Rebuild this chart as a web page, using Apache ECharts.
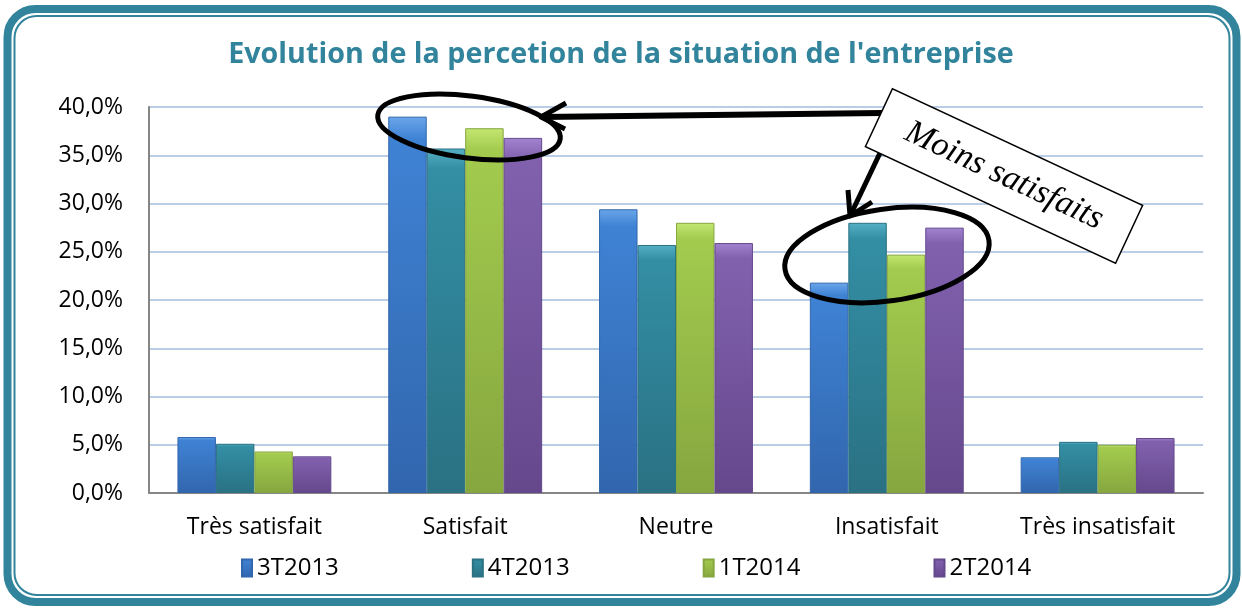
<!DOCTYPE html>
<html>
<head>
<meta charset="utf-8">
<title>Evolution de la percetion de la situation de l'entreprise</title>
<script src="https://cdn.jsdelivr.net/npm/echarts@6/dist/echarts.min.js"></script>
<style>
  html, body { margin: 0; padding: 0; background: #fff; }
  #chart { width: 1242px; height: 610px; }
</style>
</head>
<body>
<div id="chart"></div>
<script>
// categories and series values (percent)
var categories = ['Très satisfait', 'Satisfait', 'Neutre', 'Insatisfait', 'Très insatisfait']
var seriesNames = ['3T2013', '4T2013', '1T2014', '2T2014']
var t3_2013 = [5.8, 39.0, 29.4, 21.8, 3.7]
var t4_2013 = [5.1, 35.7, 25.7, 28.0, 5.3]
var t1_2014 = [4.3, 37.8, 28.0, 24.7, 5.0]
var t2_2014 = [3.8, 36.8, 25.9, 27.5, 5.7]

var FONT = '"Open Sans", Lato, sans-serif'
var TEAL = '#31849b'

// top, middle, bottom colours of each bar
var barColors = [
  ['#6aa6ea', '#3f82d4', '#3166ad'],
  ['#55b0c6', '#338ea4', '#2a7183'],
  ['#c4e671', '#a3cb4e', '#86a63f'],
  ['#a283d0', '#8161ae', '#65488c']
]

function grad(c) {
  return new echarts.graphic.LinearGradient(0, 0, 0, 1, [
    { offset: 0, color: c[0] },
    { offset: 0.06, color: c[1] },
    { offset: 1, color: c[2] }
  ])
}

var allData = [t3_2013, t4_2013, t1_2014, t2_2014]

function makeSeries(i) {
  return {
    name: seriesNames[i],
    type: 'bar',
    barGap: '0%',
    barCategoryGap: '27%',
    data: allData[i],
    itemStyle: {
      color: grad(barColors[i]),
      borderColor: barColors[i][2],
      borderWidth: 1
    },
    z: 2
  }
}

var chart = echarts.init(document.getElementById('chart'))
chart.setOption({
  animation: false,
  backgroundColor: '#fff',
  textStyle: { fontFamily: FONT },
  title: {
    text: "Evolution de la percetion de la situation de l'entreprise",
    left: 'center',
    top: 35,
    textStyle: {
      fontFamily: FONT,
      fontSize: 28.7,
      fontWeight: 'bold',
      color: TEAL
    }
  },
  grid: {
    left: 149,
    right: 39,
    top: 107,
    bottom: 117
  },
  legend: {
    data: seriesNames,
    left: 236,
    top: 551,
    icon: 'rect',
    itemWidth: 10,
    itemHeight: 17,
    itemGap: 133,
    textStyle: { fontFamily: FONT, fontSize: 24, color: '#000' }
  },
  xAxis: {
    type: 'category',
    data: categories,
    axisTick: { show: false },
    axisLine: { lineStyle: { color: '#868686', width: 2 } },
    axisLabel: {
      margin: 23,
      fontFamily: FONT,
      fontSize: 23,
      color: '#000'
    }
  },
  yAxis: {
    type: 'value',
    min: 0,
    max: 40,
    interval: 5,
    axisLine: { show: true, lineStyle: { color: '#868686', width: 2 } },
    axisTick: { show: false },
    splitLine: { lineStyle: { color: '#b9cde5', width: 2 } },
    axisLabel: {
      margin: 26,
      fontFamily: FONT,
      fontSize: 23,
      color: '#000',
      formatter: function(v) {
        return v.toFixed(1).replace('.', ',') + '%'
      }
    }
  },
  series: seriesNames.map(function(n, i) { return makeSeries(i) }),
  graphic: [
    // double rounded frame
    {
      type: 'rect',
      shape: { x: 7.5, y: 9, width: 1229, height: 593, r: 28 },
      style: { fill: 'none', stroke: TEAL, lineWidth: 8 },
      z: 10
    },
    {
      type: 'rect',
      shape: { x: 14.5, y: 16, width: 1215, height: 579, r: 22 },
      style: { fill: 'none', stroke: TEAL, lineWidth: 2 },
      z: 10
    },
    // ellipse around Satisfait
    {
      type: 'ellipse',
      x: 469,
      y: 127,
      rotation: -0.13,
      shape: { cx: 0, cy: 0, rx: 92, ry: 31 },
      style: { fill: 'none', stroke: '#000', lineWidth: 5 },
      z: 20
    },
    // ellipse around Insatisfait
    {
      type: 'ellipse',
      x: 887,
      y: 255,
      rotation: 0.14,
      shape: { cx: 0, cy: 0, rx: 103, ry: 46 },
      style: { fill: 'none', stroke: '#000', lineWidth: 5 },
      z: 20
    },
    // arrow to Satisfait
    {
      type: 'polyline',
      shape: { points: [[882, 113], [542, 117]] },
      style: { stroke: '#000', lineWidth: 6 },
      z: 20
    },
    {
      type: 'polyline',
      shape: { points: [[566, 103], [541, 117], [565, 129]] },
      style: { fill: 'none', stroke: '#000', lineWidth: 5, lineJoin: 'round' },
      z: 20
    },
    // arrow to Insatisfait
    {
      type: 'polyline',
      shape: { points: [[880, 153], [851, 214]] },
      style: { stroke: '#000', lineWidth: 5 },
      z: 20
    },
    {
      type: 'polyline',
      shape: { points: [[848, 190], [850, 216], [872, 202]] },
      style: { fill: 'none', stroke: '#000', lineWidth: 5, lineJoin: 'round' },
      z: 20
    },
    // rotated label box
    {
      type: 'group',
      x: 1004,
      y: 176,
      rotation: -0.436,
      z: 21,
      children: [
        {
          type: 'rect',
          shape: { x: -138, y: -32, width: 276, height: 64 },
          style: { fill: '#fff', stroke: '#000', lineWidth: 1.5 },
          z: 21
        },
        {
          type: 'text',
          x: 0,
          y: 0,
          style: {
            text: 'Moins satisfaits',
            x: 0,
            y: 0,
            align: 'center',
            verticalAlign: 'middle',
            font: 'italic 34px "Liberation Serif", serif',
            fill: '#000'
          },
          z: 22
        }
      ]
    }
  ]
})
</script>
</body>
</html>
